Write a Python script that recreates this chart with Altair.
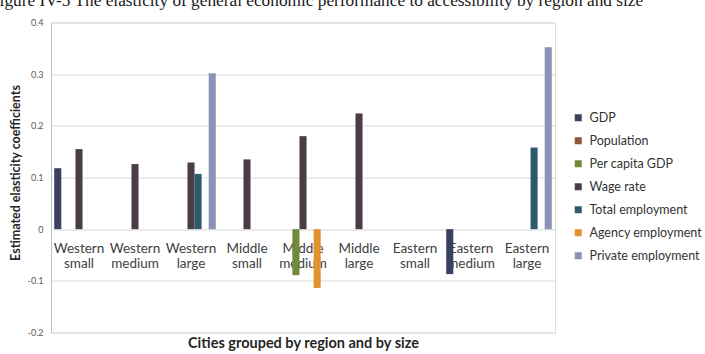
import altair as alt
import pandas as pd

# City groups (region x size) along the category axis
groups = [
    "Western\nsmall", "Western\nmedium", "Western\nlarge",
    "Middle\nsmall", "Middle\nmedium", "Middle\nlarge",
    "Eastern\nsmall", "Eastern\nmedium", "Eastern\nlarge",
]

series = [
    "GDP", "Population", "Per capita GDP", "Wage rate",
    "Total employment", "Agency employment", "Private employment",
]

colors = ["#3b4060", "#8b5a3c", "#6f8a3d", "#4b3d47", "#2f5a6b", "#e3922f", "#8d90b7"]

# Estimated elasticity coefficients per series (None = not significant / not shown)
gdp = [0.118, None, None, None, None, None, None, -0.087, None]
population = [None, None, None, None, None, None, None, None, None]
per_capita_gdp = [None, None, None, None, -0.089, None, None, None, None]
wage_rate = [0.155, 0.126, 0.129, 0.135, 0.180, 0.224, None, None, None]
total_employment = [None, None, 0.107, None, None, None, None, None, 0.158]
agency_employment = [None, None, None, None, -0.114, None, None, None, None]
private_employment = [None, None, 0.302, None, None, None, None, None, 0.352]

y_ticks = [-0.2, -0.1, 0.0, 0.1, 0.2, 0.3, 0.4]

caption = ("Figure IV-5 The elasticity of general economic performance "
           "to accessibility by region and size")

values_by_series = [gdp, population, per_capita_gdp, wage_rate,
                    total_employment, agency_employment, private_employment]

rows = []
for name, vals in zip(series, values_by_series):
    for g, v in zip(groups, vals):
        if v is not None:
            rows.append({"group": g, "series": name, "value": v})
bars_df = pd.DataFrame(rows)
labels_df = pd.DataFrame({"group": groups})
caption_df = pd.DataFrame({"t": [caption]})

SANS = "Lato"

x_enc = alt.X(
    "group:N",
    sort=groups,
    scale=alt.Scale(domain=groups, paddingInner=0.115, paddingOuter=0.0575),
    axis=alt.Axis(
        title="Cities grouped by region and by size",
        labels=False, ticks=False, domain=False, grid=False,
        titleFont=SANS, titleFontSize=14.5, titleFontWeight="bold",
        titleColor="#262626", titlePadding=4,
    ),
)

y_scale = alt.Scale(domain=[-0.2, 0.4], nice=False, zero=False)

bars = alt.Chart(bars_df).mark_bar(opacity=1).encode(
    x=x_enc,
    xOffset=alt.XOffset(
        "series:N",
        scale=alt.Scale(domain=series, paddingInner=0, paddingOuter=0),
    ),
    y=alt.Y(
        "value:Q",
        scale=y_scale,
        axis=alt.Axis(
            title="Estimated elasticity coefficients",
            values=y_ticks,
            labelExpr="datum.value == 0 ? '0' : '' + round(datum.value * 10) / 10",
            labelFont=SANS, labelFontSize=9, labelColor="#595959",
            labelPadding=8, ticks=False,
            domain=True, domainColor="#bfbfbf", domainWidth=1,
            grid=True, gridColor="#d9d9d9", gridWidth=1,
            titleFont=SANS, titleFontSize=12.5, titleFontWeight="bold",
            titleColor="#262626", titleAngle=270,
            titleX=-36, titleY=150, titleAlign="center", titleBaseline="middle",
        ),
    ),
    y2=alt.datum(0),
    color=alt.Color(
        "series:N",
        scale=alt.Scale(domain=series, range=colors),
        legend=alt.Legend(
            title=None, orient="none", legendX=521, legendY=89,
            symbolType="square", symbolSize=49, symbolStrokeWidth=0,
            labelFont=SANS, labelFontSize=12.5, labelColor="#333333",
            labelOffset=5, rowPadding=10, labelLimit=200,
        ),
    ),
)

# Category names sit just under the zero line
cat_labels = alt.Chart(labels_df).mark_text(
    font=SANS, fontSize=13.5, color="#404040", baseline="top",
    lineBreak="\n", lineHeight=15, dy=13,
).encode(
    x=alt.X("group:N", sort=groups),
    y=alt.datum(0),
    text="group:N",
)

caption_text = alt.Chart(caption_df).mark_text(
    font="Liberation Serif", fontSize=17.3, color="#1a1a1a",
    align="left", baseline="alphabetic",
).encode(
    x=alt.value(-61), y=alt.value(-17),
    text="t:N",
)

chart = alt.layer(cat_labels, bars, caption_text).properties(
    width=504, height=310,
    autosize=alt.AutoSizeParams(type="none"),
    padding={"left": 51, "top": 22.5, "right": 150, "bottom": 21.5},
).configure_view(stroke=None).configure(background="white")

chart.save("out.html", embed_options={"renderer": "svg", "actions": False})
